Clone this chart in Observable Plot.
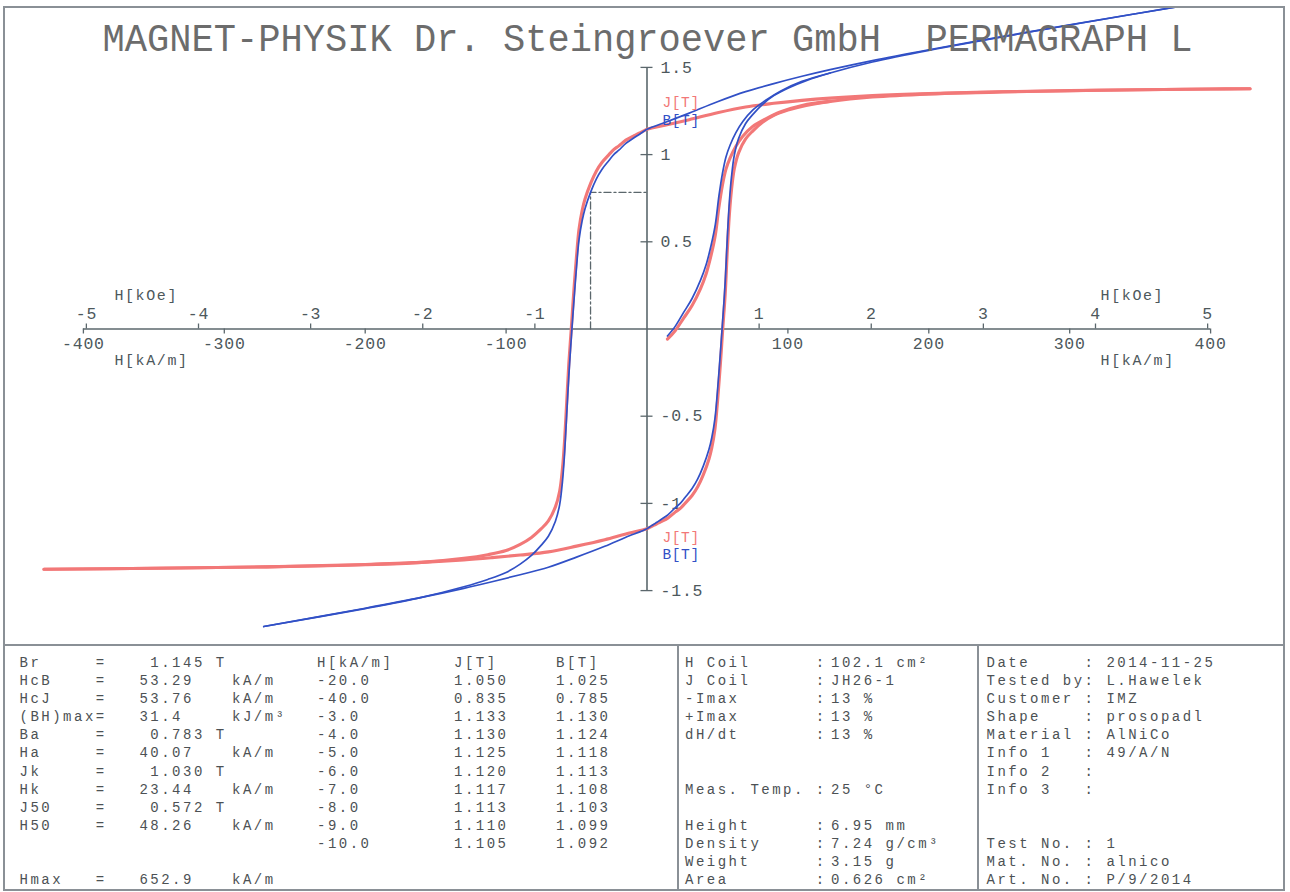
<!DOCTYPE html>
<html>
<head>
<meta charset="utf-8">
<script src="https://cdn.jsdelivr.net/npm/d3@7"></script>
<script src="https://cdn.jsdelivr.net/npm/@observablehq/plot@0.6"></script>
<style>
  body { margin: 0; background: #fff; }
  #page { position: relative; width: 1290px; height: 892px; overflow: hidden; background: #fff; }
  #chart { position: absolute; left: 0; top: 0; }
  .ln { position: absolute; background: #8a9096; }
  .cell { position: absolute; font-family: "Liberation Mono", monospace; font-size: 14px;
          letter-spacing: 2.5px; line-height: 18.1px; white-space: pre; color: #4c5154; }
</style>
</head>
<body>
<div id="page"><div id="chart"></div></div>
<script>
// ---------------- data ----------------
const title = "MAGNET-PHYSIK Dr. Steingroever GmbH  PERMAGRAPH L";
const kAmTicks = [-400, -300, -200, -100, 100, 200, 300, 400];
const kOeTicks = [-5, -4, -3, -2, -1, 1, 2, 3, 4, 5];
const tTicks = [-1.5, -1, -0.5, 0.5, 1, 1.5];

// initial (start-up) curve
const H_init = [14.5, 20, 26, 32, 38, 42, 45.5, 48.5, 51, 53.5, 56, 59, 63, 68, 75, 84, 95, 110, 130];
const J_init = [-0.058, -0.010, 0.062, 0.135, 0.232, 0.317, 0.423, 0.539, 0.696, 0.823, 0.915, 0.981, 1.046, 1.105, 1.161, 1.204, 1.246, 1.282, 1.305];
const B_init = [-0.040, 0.015, 0.095, 0.175, 0.280, 0.370, 0.480, 0.600, 0.760, 0.890, 0.985, 1.055, 1.125, 1.190, 1.255, 1.310, 1.365, 1.420, 1.468];

// J loop, descending branch (+Hmax -> -Hmax)
const H_desc = [428, 400, 350, 300, 250, 200, 160, 130, 110, 90, 70, 50, 30, 15, 0, -3, -5, -7, -10, -15, -20, -23.44, -27, -32, -36, -40, -44, -46, -48.26, -50, -52, -53.76, -55.5, -57, -58.5, -60, -62, -65, -70, -75, -82, -90, -100, -113, -130, -160, -200, -270, -350, -428];
const J_desc = [1.378, 1.376, 1.372, 1.367, 1.360, 1.350, 1.338, 1.324, 1.311, 1.294, 1.273, 1.240, 1.200, 1.172, 1.145, 1.133, 1.125, 1.117, 1.105, 1.083, 1.050, 1.030, 1.000, 0.955, 0.905, 0.835, 0.745, 0.680, 0.572, 0.420, 0.210, 0.000, -0.200, -0.420, -0.640, -0.800, -0.930, -1.020, -1.100, -1.145, -1.195, -1.235, -1.270, -1.294, -1.315, -1.338, -1.352, -1.364, -1.372, -1.378];

// J loop, ascending branch (-Hmax -> +Hmax)
const H_asc = [-428, -350, -270, -200, -160, -130, -110, -90, -70, -50, -30, -15, 0, 3, 5, 7, 10, 15, 20, 23.44, 27, 32, 36, 40, 44, 46, 48.26, 50, 52, 53.76, 55.5, 57, 58.5, 60, 62, 65, 70, 75, 82, 90, 100, 113, 130, 160, 200, 270, 350, 428];
const J_asc = [-1.378, -1.372, -1.364, -1.350, -1.338, -1.324, -1.311, -1.296, -1.278, -1.245, -1.208, -1.175, -1.145, -1.133, -1.125, -1.117, -1.105, -1.083, -1.050, -1.030, -1.000, -0.955, -0.905, -0.835, -0.745, -0.680, -0.572, -0.420, -0.210, 0.000, 0.200, 0.450, 0.660, 0.800, 0.920, 1.010, 1.090, 1.135, 1.185, 1.225, 1.255, 1.282, 1.305, 1.330, 1.347, 1.362, 1.372, 1.378];

// B loop, descending branch
const H_descB = [400, 350, 300, 250, 200, 160, 130, 110, 90, 70, 50, 30, 15, 0, -3, -5, -7, -10, -15, -20, -23.44, -27, -32, -36, -40, -44, -46, -48.26, -50, -52, -53.29, -55.5, -57, -58.5, -60, -62, -65, -70, -75, -82, -90, -100, -113, -130, -160, -200, -272];
const B_desc = [1.879, 1.812, 1.744, 1.674, 1.601, 1.539, 1.487, 1.449, 1.407, 1.361, 1.303, 1.238, 1.191, 1.145, 1.130, 1.118, 1.108, 1.092, 1.064, 1.025, 1.001, 0.966, 0.915, 0.860, 0.785, 0.690, 0.622, 0.511, 0.357, 0.145, 0.000, -0.270, -0.492, -0.714, -0.875, -1.008, -1.102, -1.188, -1.239, -1.298, -1.348, -1.396, -1.436, -1.478, -1.539, -1.603, -1.706];

// B loop, ascending branch
const H_ascB = [-272, -200, -160, -130, -110, -90, -70, -50, -30, -15, 0, 3, 5, 7, 10, 15, 20, 23.44, 27, 32, 36, 40, 44, 46, 48.26, 50, 52, 53.29, 55.5, 57, 58.5, 60, 62, 65, 70, 75, 82, 90, 100, 113, 130, 160, 200, 270, 350, 400];
const B_asc = [-1.706, -1.601, -1.539, -1.487, -1.449, -1.409, -1.366, -1.308, -1.246, -1.194, -1.145, -1.129, -1.119, -1.108, -1.092, -1.064, -1.025, -1.001, -0.966, -0.915, -0.860, -0.785, -0.690, -0.622, -0.511, -0.357, -0.145, 0.000, 0.270, 0.522, 0.734, 0.875, 0.998, 1.092, 1.178, 1.229, 1.288, 1.338, 1.381, 1.424, 1.468, 1.531, 1.598, 1.701, 1.812, 1.879];

// result table
const paramNames = ["Br", "HcB", "HcJ", "(BH)max", "Ba", "Ha", "Jk", "Hk", "J50", "H50", "Hmax"];
const paramValues = ["1.145", "53.29", "53.76", "31.4", "0.783", "40.07", "1.030", "23.44", "0.572", "48.26", "652.9"];
const paramUnits = ["T", "kA/m", "kA/m", "kJ/m³", "T", "kA/m", "T", "kA/m", "T", "kA/m", "kA/m"];
const hCol = ["H[kA/m]", "-20.0", "-40.0", "-3.0", "-4.0", "-5.0", "-6.0", "-7.0", "-8.0", "-9.0", "-10.0"];
const jCol = ["J[T]", "1.050", "0.835", "1.133", "1.130", "1.125", "1.120", "1.117", "1.113", "1.110", "1.105"];
const bCol = ["B[T]", "1.025", "0.785", "1.130", "1.124", "1.118", "1.113", "1.108", "1.103", "1.099", "1.092"];
const setupNames = ["H Coil", "J Coil", "-Imax", "+Imax", "dH/dt", "Meas. Temp.", "Height", "Density", "Weight", "Area"];
const setupValues = ["102.1 cm²", "JH26-1", "13 %", "13 %", "13 %", "25 °C", "6.95 mm", "7.24 g/cm³", "3.15 g", "0.626 cm²"];
const infoNames = ["Date", "Tested by", "Customer", "Shape", "Material", "Info 1", "Info 2", "Info 3", "Test No.", "Mat. No.", "Art. No."];
const infoValues = ["2014-11-25", "L.Hawelek", "IMZ", "prosopadl", "AlNiCo", "49/A/N", "", "", "1", "alnico", "P/9/2014"];

// ---------------- layout ----------------
const KOE = 1000 / (4 * Math.PI);            // kA/m per kOe
const X0 = 646.5, PX_H = 1.409, Y0 = 328.5, PX_T = 174.4;
const W = 1290, HT = 645, mL = 4, mR = 6, mT = 7, mB = 0;
const xDomain = [(mL - X0) / PX_H, (W - mR - X0) / PX_H];
const yDomain = [(Y0 - (HT - mB)) / PX_T, (Y0 - mT) / PX_T];
const tickT = 5 / PX_T, tickH = 6 / PX_H;

const Br = parseFloat(paramValues[0]);
const Ha = -parseFloat(paramValues[5]);
const Ba = parseFloat(paramValues[4]);

const rows = (hs, vs) => hs.map((h, i) => ({H: h, V: vs[i]}));
const refPath = [{H: Ha, V: 0}, {H: Ha, V: Ba}, {H: 0, V: Ba}];

const axisColor = "#5b676c", labelColor = "#4d585c";
const red = "#f27878", blue = "#3150c6";
const lineOpts = (c, w) => ({x: "H", y: "V", stroke: c, strokeWidth: w, curve: "catmull-rom", clip: true});

const chart = Plot.plot({
  width: W, height: HT,
  marginLeft: mL, marginRight: mR, marginTop: mT, marginBottom: mB,
  x: {domain: xDomain, axis: null},
  y: {domain: yDomain, axis: null},
  style: {fontFamily: "'Liberation Mono', monospace", background: "white"},
  marks: [
    Plot.ruleY([0], {x1: -400, x2: 400, stroke: axisColor, strokeWidth: 1.6}),
    Plot.ruleX([0], {y1: -1.5, y2: 1.5, stroke: axisColor, strokeWidth: 1.6}),
    Plot.ruleX(kAmTicks, {x: d => d, y1: 0, y2: -tickT, stroke: axisColor, strokeWidth: 1.3}),
    Plot.ruleX(kOeTicks, {x: d => d * KOE, y1: 0, y2: tickT, stroke: axisColor, strokeWidth: 1.3}),
    Plot.ruleY(tTicks, {y: d => d, x1: -tickH, x2: tickH, stroke: axisColor, strokeWidth: 1.3}),
    Plot.text(kAmTicks, {x: d => d, y: 0, text: d => String(d), dy: 14.5, fontSize: 16.5, fill: labelColor}),
    Plot.text(kOeTicks, {x: d => d * KOE, y: 0, text: d => String(d), dy: -15.5, fontSize: 16.5, fill: labelColor}),
    Plot.text(tTicks, {x: 0, y: d => d, text: d => String(d), dx: 13.5, textAnchor: "start", fontSize: 16.5, fill: labelColor}),
    Plot.text(["H[kOe]"], {x: -400, y: 0, text: d => d, dx: 31, dy: -34, textAnchor: "start", fontSize: 15, fill: labelColor}),
    Plot.text(["H[kA/m]"], {x: -400, y: 0, text: d => d, dx: 31, dy: 31, textAnchor: "start", fontSize: 15, fill: labelColor}),
    Plot.text(["H[kOe]"], {x: 400, y: 0, text: d => d, dx: -110, dy: -34, textAnchor: "start", fontSize: 15, fill: labelColor}),
    Plot.text(["H[kA/m]"], {x: 400, y: 0, text: d => d, dx: -110, dy: 31, textAnchor: "start", fontSize: 15, fill: labelColor}),
    Plot.line(refPath, {x: "H", y: "V", stroke: axisColor, strokeWidth: 1.3, strokeDasharray: "7,3,2,3"}),
    Plot.line(rows(H_init, J_init), lineOpts(red, 3.1)),
    Plot.line(rows(H_desc, J_desc), lineOpts(red, 3.1)),
    Plot.line(rows(H_asc, J_asc), lineOpts(red, 3.1)),
    Plot.line(rows(H_init, B_init), lineOpts(blue, 1.7)),
    Plot.line(rows(H_descB, B_desc), lineOpts(blue, 1.7)),
    Plot.line(rows(H_ascB, B_asc), lineOpts(blue, 1.7)),
    Plot.text(["J[T]"], {x: 0, y: Br, text: d => d, dx: 15.5, dy: -27, textAnchor: "start", fontSize: 14.5, fill: red}),
    Plot.text(["B[T]"], {x: 0, y: Br, text: d => d, dx: 15.5, dy: -9, textAnchor: "start", fontSize: 14.5, fill: blue}),
    Plot.text(["J[T]"], {x: 0, y: -Br, text: d => d, dx: 15.5, dy: 9, textAnchor: "start", fontSize: 14.5, fill: red}),
    Plot.text(["B[T]"], {x: 0, y: -Br, text: d => d, dx: 15.5, dy: 26, textAnchor: "start", fontSize: 14.5, fill: blue}),
    Plot.text([title], {frameAnchor: "top", lineAnchor: "middle", text: d => d, dx: 3, dy: 31, fontSize: 38, fill: "#6c6c6c"})
  ]
});
document.getElementById("chart").appendChild(chart);
d3.select(chart).selectAll("text").each(function () {
  const t = this.textContent, s = d3.select(this);
  if (t === title) s.attr("textLength", 1090).attr("lengthAdjust", "spacingAndGlyphs");
  else if (t.startsWith("H[")) s.style("letter-spacing", "1.6px");
  else if (t === "J[T]" || t === "B[T]") s.style("letter-spacing", "0.6px");
  else s.style("letter-spacing", "0.8px");
});

// ---------------- frame and table ----------------
const page = document.getElementById("page");
function line(l, t, w, h) {
  const d = document.createElement("div");
  d.className = "ln";
  Object.assign(d.style, {left: l + "px", top: t + "px", width: w + "px", height: h + "px"});
  page.appendChild(d);
}
line(3, 6, 1282, 2); line(3, 889, 1282, 2); line(3, 6, 2, 885); line(1283, 6, 2, 885);
line(3, 644, 1282, 2); line(677, 644, 2, 247); line(977, 644, 2, 247);

const PITCH = 10.9, ROW = 18.1, TOP = 653.9;
function cell(text, x, row) {
  const s = document.createElement("div");
  s.className = "cell";
  s.textContent = text;
  s.style.left = x + "px";
  s.style.top = (TOP + row * ROW) + "px";
  page.appendChild(s);
}
const paramRows = [0, 1, 2, 3, 4, 5, 6, 7, 8, 9, 12];
paramNames.forEach((n, i) => {
  const r = paramRows[i], isT = paramUnits[i] === "T";
  cell(n, 19.5, r);
  cell("=", 19.5 + 7 * PITCH, r);
  cell(paramValues[i], 19.5 + (isT ? 12 : 11) * PITCH, r);
  cell(paramUnits[i], isT ? 19.5 + 18 * PITCH : 232, r);
});
hCol.forEach((t, i) => cell(t, 317, i));
jCol.forEach((t, i) => cell(t, 454, i));
bCol.forEach((t, i) => cell(t, 556, i));
const setupRows = [0, 1, 2, 3, 4, 7, 9, 10, 11, 12];
setupNames.forEach((n, i) => {
  cell(n, 685, setupRows[i]);
  cell(":", 685 + 12 * PITCH, setupRows[i]);
  cell(setupValues[i], 831, setupRows[i]);
});
const infoRows = [0, 1, 2, 3, 4, 5, 6, 7, 10, 11, 12];
infoNames.forEach((n, i) => {
  cell(n, 986.5, infoRows[i]);
  cell(":", 986.5 + 9 * PITCH, infoRows[i]);
  cell(infoValues[i], 986.5 + 11 * PITCH, infoRows[i]);
});
</script>
</body>
</html>
